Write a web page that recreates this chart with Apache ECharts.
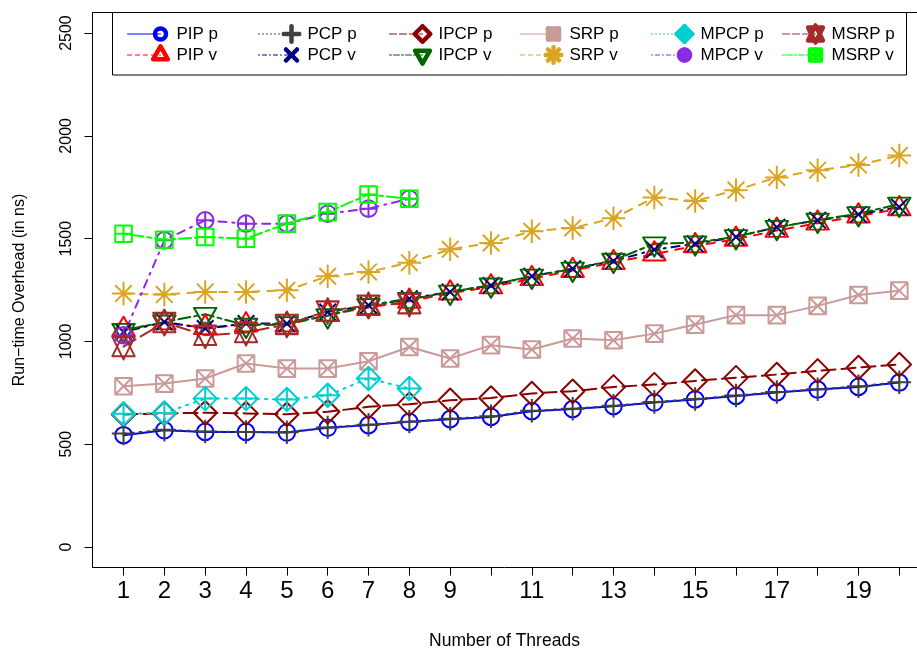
<!DOCTYPE html>
<html>
<head>
<meta charset="utf-8">
<script src="https://cdn.jsdelivr.net/npm/echarts@6/dist/echarts.min.js"></script>
<style>html,body{margin:0;padding:0;background:#fff}#c{width:917px;height:650px}</style>
</head>
<body>
<div id="c"></div>
<script>
// ---------- data ----------
const threads = [1,2,3,4,5,6,7,8,9,10,11,12,13,14,15,16,17,18,19,20];
const xLabelValues = [1,2,3,4,5,6,7,8,9,11,13,15,17,19];
const yTickValues = [0,500,1000,1500,2000,2500];
const seriesNames = ['PIP p','PIP v','PCP p','PCP v','IPCP p','IPCP v','SRP p','SRP v','MPCP p','MPCP v','MSRP p','MSRP v'];

const pipP  = [544,568,560,560,557,580,593,609,622,633,661,671,685,703,718,735,752,766,779,800];
const pipV  = [1058,1090,1067,1080,1080,1130,1165,1195,1235,1265,1305,1345,1383,1425,1465,1497,1540,1575,1610,1645];
const pcpP  = [552,570,562,560,558,582,595,610,624,636,663,673,687,705,720,737,754,768,782,802];
const pcpV  = [1046,1095,1063,1087,1087,1143,1176,1208,1241,1272,1317,1354,1391,1446,1475,1508,1556,1589,1618,1654];
const ipcpP = [645,650,653,650,646,658,682,695,714,725,747,758,779,790,808,824,839,857,873,888];
const ipcpV = [1054,1095,1132,1079,1087,1125,1175,1205,1240,1275,1318,1352,1395,1475,1480,1510,1555,1590,1622,1668];
const srpP  = [782,795,820,893,868,868,904,973,917,982,961,1014,1006,1038,1082,1128,1128,1173,1226,1247];
const srpV  = [1233,1228,1241,1241,1249,1317,1338,1383,1448,1479,1536,1552,1599,1700,1683,1736,1798,1833,1858,1904];
const mpcpP = [648,652,722,722,718,738,820,771];
const mpcpV = [1030,1492,1589,1573,1573,1621,1646,1694];
const msrpP = [975,1092,1030,1043,1083,1148,1176,1184];
const msrpV = [1524,1495,1508,1500,1573,1629,1715,1694];

const seriesValues = [pipP,pipV,pcpP,pcpV,ipcpP,ipcpV,srpP,srpV,mpcpP,mpcpV,msrpP,msrpV];

// ---------- styles ----------
const colors = ['#0000FF','#FF0000','#404040','#000080','#8B0000','#006400','#CC9999','#DAA520','#00CED1','#8A2BE2','#A52A2A','#00FF00'];
const ltys = ['solid','dashed','dotted','dotdash','longdash','twodash','solid','dashed','dotted','dotdash','longdash','twodash'];
const shapeKeys = ['circle','tri','plus','times','diamond','tridown','sqtimes','asterisk','diaplus','circplus','star','sqplus'];
const dashBase = {solid:null, dashed:[4,4], dotted:[1,3], dotdash:[1,3,4,3], longdash:[7,3], twodash:[2,2,6,2]};
function dash(lty, lwd){ const b = dashBase[lty]; return b ? b.map(v=>v*lwd) : 'solid'; }

// R pch glyphs in units of the point radius
const Q = 1.414;
const PLUS = [{seg:[-Q,0,Q,0]},{seg:[0,-Q,0,Q]}];
const PLUS1 = [{seg:[-1,0,1,0]},{seg:[0,-1,0,1]}];
const TIMES = [{seg:[-1,-1,1,1]},{seg:[-1,1,1,-1]}];
const SQ = [{poly:[[-1,-1],[1,-1],[1,1],[-1,1]]}];
const DIA = [{poly:[[-Q,0],[0,-Q],[Q,0],[0,Q]]}];
const SHAPES = {
  circle:  {parts:[{circ:1}], w:2, h:2, dy:0},
  tri:     {parts:[{poly:[[0,-1.555],[1.347,0.7775],[-1.347,0.7775]]}], w:2.694, h:2.3325, dy:-0.389},
  plus:    {parts:PLUS, w:2*Q, h:2*Q, dy:0},
  times:   {parts:TIMES, w:2, h:2, dy:0},
  diamond: {parts:DIA, w:2*Q, h:2*Q, dy:0},
  tridown: {parts:[{poly:[[0,1.555],[1.347,-0.7775],[-1.347,-0.7775]]}], w:2.694, h:2.3325, dy:0.389},
  sqtimes: {parts:SQ.concat(TIMES), w:2, h:2, dy:0},
  asterisk:{parts:TIMES.concat(PLUS), w:2*Q, h:2*Q, dy:0},
  diaplus: {parts:DIA.concat(PLUS), w:2*Q, h:2*Q, dy:0},
  circplus:{parts:[{circ:1}].concat(PLUS1), w:2, h:2, dy:0},
  star:    {parts:[{poly:[[0,-1.555],[1.347,1.1665],[-1.347,1.1665]]},{poly:[[0,1.555],[1.347,-1.1665],[-1.347,-1.1665]]}], w:2.694, h:3.11, dy:0},
  sqplus:  {parts:SQ.concat(PLUS1), w:2, h:2, dy:0}
};
function pathOf(shape){
  return shape.parts.map(p => {
    if (p.circ) return 'M-1 0A1 1 0 1 1 1 0A1 1 0 1 1 -1 0Z';
    if (p.seg) return 'M' + p.seg[0] + ' ' + p.seg[1] + 'L' + p.seg[2] + ' ' + p.seg[3];
    return 'M' + p.poly.map(q => q[0] + ' ' + q[1]).join('L') + 'Z';
  }).join('');
}
const FONT = '"Liberation Sans", Arial, Helvetica, sans-serif';
const R = 8.3;      // point radius in plot
const RL = 5.5;     // point radius in legend

// layout: R's usr range 0.24..20.76 (4% pad), plot cropped at the right edge
const GRID_LEFT = 92.5, PX_PER_X = 40.83, X_MIN = 0.24, GRID_W = 824;
const X_MAX = X_MIN + GRID_W / PX_PER_X;

const series = seriesNames.map((name, i) => {
  const s = SHAPES[shapeKeys[i]];
  const vals = seriesValues[i];
  return {
    type: 'line', name: name,
    data: vals.map((v, j) => [threads[j], v]),
    symbol: 'path://' + pathOf(s),
    symbolSize: [s.w * R, s.h * R],
    symbolOffset: [0, s.dy * R],
    itemStyle: {color: 'rgba(0,0,0,0)', borderColor: colors[i], borderWidth: 2, borderJoin: 'round'},
    lineStyle: {color: colors[i], width: 2, type: dash(ltys[i], 2), cap: 'round'},
    emphasis: {disabled: true},
    silent: true,
    clip: false,
    animation: false
  };
});

// ---------- legend (drawn) + top border ----------
const graphics = [{
  type: 'line', z: 100,
  shape: {x1: GRID_LEFT, y1: 12.5, x2: 917, y2: 12.5},
  style: {stroke: '#000', lineWidth: 1}
}, {
  type: 'rect', z: 100,
  shape: {x: 112.5, y: 12.5, width: 794, height: 62.5},
  style: {fill: 'none', stroke: '#000', lineWidth: 1}
}];
seriesNames.forEach((name, i) => {
  const col = Math.floor(i / 2), row = i % 2;
  const sx = 160.5 + 131 * col, sy = 34 + 21 * row;
  const s = SHAPES[shapeKeys[i]];
  graphics.push({
    type: 'line', z: 100,
    shape: {x1: sx - 33, y1: sy, x2: sx, y2: sy},
    style: {stroke: colors[i], lineWidth: 1, lineDash: ltys[i] === 'solid' ? null : dashBase[ltys[i]], lineCap: 'round'}
  });
  const st = {fill: 'none', stroke: colors[i], lineWidth: 4.5, lineJoin: 'round', lineCap: 'round'};
  s.parts.forEach(p => {
    if (p.circ) {
      graphics.push({type: 'circle', z: 101, shape: {cx: sx, cy: sy, r: RL}, style: st});
    } else if (p.seg) {
      graphics.push({type: 'line', z: 101, shape: {x1: sx + p.seg[0]*RL, y1: sy + p.seg[1]*RL, x2: sx + p.seg[2]*RL, y2: sy + p.seg[3]*RL}, style: st});
    } else {
      graphics.push({type: 'polygon', z: 101, shape: {points: p.poly.map(q => [sx + q[0]*RL, sy + q[1]*RL])}, style: st});
    }
  });
  graphics.push({
    type: 'text', z: 101,
    x: sx + 16, y: sy,
    style: {text: name, fill: '#000', font: '17px ' + FONT, verticalAlign: 'middle', align: 'left'}
  });
});

const chart = echarts.init(document.getElementById('c'), null, {renderer: 'canvas'});
chart.setOption({
  animation: false,
  backgroundColor: '#fff',
  textStyle: {fontFamily: FONT},
  grid: {left: GRID_LEFT, top: 12.5, width: GRID_W, height: 555.1, show: false, containLabel: false, outerBoundsMode: 'none'},
  xAxis: {
    type: 'value', min: X_MIN, max: X_MAX,
    axisLine: {show: true, onZero: false, lineStyle: {color: '#000', width: 1}},
    axisTick: {show: true, length: 8, customValues: threads, lineStyle: {color: '#000', width: 1}},
    axisLabel: {customValues: xLabelValues, fontSize: 24, color: '#000', margin: 12, fontFamily: FONT, formatter: v => String(v)},
    splitLine: {show: false},
    name: 'Number of Threads', nameLocation: 'middle', nameGap: 65,
    nameTextStyle: {fontSize: 17.5, color: '#000', fontFamily: FONT}
  },
  yAxis: {
    type: 'value', min: -100, max: 2600,
    axisLine: {show: true, onZero: false, lineStyle: {color: '#000', width: 1}},
    axisTick: {show: true, length: 8, customValues: yTickValues, lineStyle: {color: '#000', width: 1}},
    axisLabel: {customValues: yTickValues, rotate: 90, fontSize: 16, color: '#000', margin: 18, fontFamily: FONT, formatter: v => String(v)},
    splitLine: {show: false},
    name: 'Run\u2212time Overhead (in ns)', nameLocation: 'middle', nameGap: 65, nameRotate: 90,
    nameTextStyle: {fontSize: 16, color: '#000', fontFamily: FONT}
  },
  graphic: graphics,
  series: series
});
</script>
</body>
</html>
